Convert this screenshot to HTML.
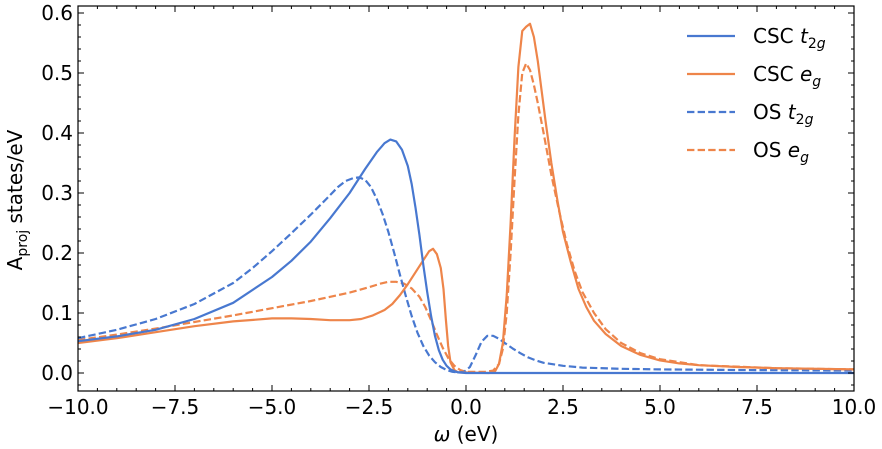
<!DOCTYPE html>
<html><head><meta charset="utf-8"><style>
body{margin:0;background:#fff}
svg{display:block;font-family:"DejaVu Sans","Liberation Sans",sans-serif}
</style></head><body>
<svg width="882" height="449" viewBox="0 0 882 449" xmlns="http://www.w3.org/2000/svg">
<rect width="882" height="449" fill="#fff"/>
<defs><clipPath id="c"><rect x="78" y="6" width="776" height="385"/></clipPath></defs>
<g clip-path="url(#c)" fill="none" stroke-width="2.2" stroke-linejoin="round">
<g transform="translate(466,373) scale(38.8,-600)">
<polyline vector-effect="non-scaling-stroke" stroke="#ee854a" stroke-dasharray="7.4,3.2" points="-10,.055 -9,.064 -8,.074 -7,.085 -6,.096 -5,.108 -4,.12 -3.5,.127 -3,.134 -2.5,.143 -2.2,.149 -2,.152 -1.8,.152 -1.6,.149 -1.4,.141 -1.2,.127 -1.05,.11 -0.9,.088 -0.75,.064 -0.6,.042 -0.45,.024 -0.3,.012 -0.15,.005 0,.002 0.5,.002 0.7,.004 0.85,.015 0.95,.04 1.05,.1 1.15,.2 1.25,.32 1.35,.43 1.45,.5 1.55,.516 1.65,.505 1.75,.48 1.85,.45 2,.4 2.2,.33 2.4,.27 2.6,.215 2.8,.17 3,.135 3.3,.1 3.6,.073 4,.05 4.5,.033 5,.023 6,.013 8,.008 10,.006"/>
<polyline vector-effect="non-scaling-stroke" stroke="#4878d0" stroke-dasharray="7.4,3.2" points="-10,.058 -9,.072 -8,.09 -7,.115 -6,.15 -5.5,.175 -5,.203 -4.5,.233 -4,.264 -3.6,.29 -3.3,.31 -3.1,.32 -2.9,.325 -2.75,.326 -2.6,.322 -2.45,.31 -2.3,.29 -2.15,.265 -2,.235 -1.85,.2 -1.7,.163 -1.55,.128 -1.4,.095 -1.25,.067 -1.1,.045 -0.95,.029 -0.8,.018 -0.65,.01 -0.5,.005 -0.35,.002 -0.2,.001 -0.05,.002 0.1,.01 0.25,.03 0.4,.052 0.55,.062 0.7,.062 0.85,.057 1,.05 1.2,.041 1.4,.033 1.6,.026 1.8,.021 2,.017 2.5,.012 3,.009 4,.007 5,.006 7,.005 10,.004"/>
<polyline vector-effect="non-scaling-stroke" stroke="#ee854a" points="-10,.05 -9,.058 -8,.068 -7,.078 -6,.086 -5,.091 -4.5,.091 -4,.09 -3.5,.088 -3,.088 -2.7,.09 -2.4,.096 -2.1,.105 -1.9,.115 -1.7,.13 -1.5,.148 -1.3,.168 -1.1,.188 -0.95,.203 -0.85,.207 -0.75,.198 -0.65,.175 -0.58,.14 -0.52,.09 -0.46,.045 -0.4,.018 -0.3,.005 -0.2,.001 0.6,0 0.75,.003 0.85,.015 0.95,.05 1.05,.13 1.15,.25 1.25,.39 1.35,.51 1.45,.57 1.55,.577 1.65,.582 1.75,.56 1.85,.52 1.95,.47 2.05,.42 2.2,.35 2.35,.29 2.5,.235 2.7,.185 2.9,.14 3.1,.11 3.3,.087 3.6,.065 4,.045 4.5,.03 5,.021 5.5,.016 6,.013 7,.01 8,.008 10,.006"/>
<polyline vector-effect="non-scaling-stroke" stroke="#4878d0" points="-10,.053 -9,.061 -8,.072 -7,.09 -6,.117 -5,.16 -4.5,.187 -4,.219 -3.5,.258 -3,.3 -2.6,.34 -2.3,.368 -2.1,.383 -1.95,.389 -1.8,.386 -1.65,.372 -1.5,.345 -1.4,.315 -1.3,.275 -1.2,.23 -1.1,.18 -1,.135 -0.9,.095 -0.8,.062 -0.7,.038 -0.6,.022 -0.5,.012 -0.4,.006 -0.3,.003 -0.2,.001 0,0 10,0"/>
</g></g>
<rect x="78" y="6" width="776" height="385" fill="none" stroke="#000" stroke-width="1.2"/>
<g stroke="#000" stroke-width="1">
<path d="M78,391v-6M175,391v-6M272,391v-6M369,391v-6M466,391v-6M563,391v-6M660,391v-6M757,391v-6M854,391v-6M78,6v6M175,6v6M272,6v6M369,6v6M466,6v6M563,6v6M660,6v6M757,6v6M854,6v6"/>
<path d="M97.4,391v-3M116.8,391v-3M136.2,391v-3M155.6,391v-3M194.4,391v-3M213.8,391v-3M233.2,391v-3M252.6,391v-3M291.4,391v-3M310.8,391v-3M330.2,391v-3M349.6,391v-3M388.4,391v-3M407.8,391v-3M427.2,391v-3M446.6,391v-3M485.4,391v-3M504.8,391v-3M524.2,391v-3M543.6,391v-3M582.4,391v-3M601.8,391v-3M621.2,391v-3M640.6,391v-3M679.4,391v-3M698.8,391v-3M718.2,391v-3M737.6,391v-3M776.4,391v-3M795.8,391v-3M815.2,391v-3M834.6,391v-3M97.4,6v3M116.8,6v3M136.2,6v3M155.6,6v3M194.4,6v3M213.8,6v3M233.2,6v3M252.6,6v3M291.4,6v3M310.8,6v3M330.2,6v3M349.6,6v3M388.4,6v3M407.8,6v3M427.2,6v3M446.6,6v3M485.4,6v3M504.8,6v3M524.2,6v3M543.6,6v3M582.4,6v3M601.8,6v3M621.2,6v3M640.6,6v3M679.4,6v3M698.8,6v3M718.2,6v3M737.6,6v3M776.4,6v3M795.8,6v3M815.2,6v3M834.6,6v3"/>
<path d="M78,373h6M78,313h6M78,253h6M78,193h6M78,133h6M78,73h6M78,13h6M854,373h-6M854,313h-6M854,253h-6M854,193h-6M854,133h-6M854,73h-6M854,13h-6"/>
<path d="M78,385h3M78,361h3M78,349h3M78,337h3M78,325h3M78,301h3M78,289h3M78,277h3M78,265h3M78,241h3M78,229h3M78,217h3M78,205h3M78,181h3M78,169h3M78,157h3M78,145h3M78,121h3M78,109h3M78,97h3M78,85h3M78,61h3M78,49h3M78,37h3M78,25h3M854,385h-3M854,361h-3M854,349h-3M854,337h-3M854,325h-3M854,301h-3M854,289h-3M854,277h-3M854,265h-3M854,241h-3M854,229h-3M854,217h-3M854,205h-3M854,181h-3M854,169h-3M854,157h-3M854,145h-3M854,121h-3M854,109h-3M854,97h-3M854,85h-3M854,61h-3M854,49h-3M854,37h-3M854,25h-3"/>
</g>
<g font-size="20" fill="#000" text-anchor="end">
<text x="73" y="380">0.0</text><text x="73" y="320">0.1</text><text x="73" y="260">0.2</text><text x="73" y="200">0.3</text><text x="73" y="140">0.4</text><text x="73" y="80">0.5</text><text x="73" y="20">0.6</text>
</g>
<g font-size="20" fill="#000" text-anchor="middle">
<text x="78" y="414">−10.0</text><text x="175" y="414">−7.5</text><text x="272" y="414">−5.0</text><text x="369" y="414">−2.5</text><text x="466" y="414">0.0</text><text x="563" y="414">2.5</text><text x="660" y="414">5.0</text><text x="757" y="414">7.5</text><text x="854" y="414">10.0</text>
<text x="466" y="441"><tspan font-style="italic">ω</tspan> (eV)</text>
</g>
<text transform="translate(22,200) rotate(-90)" font-size="20" text-anchor="middle">A<tspan font-size="14" dy="5">proj</tspan><tspan dy="-5"> states/eV</tspan></text>
<g stroke-width="2.2">
<line x1="687" y1="36" x2="735" y2="36" stroke="#4878d0"/>
<line x1="687" y1="74" x2="735" y2="74" stroke="#ee854a"/>
<line x1="687" y1="112" x2="735" y2="112" stroke="#4878d0" stroke-dasharray="7.4,3.2"/>
<line x1="687" y1="150" x2="735" y2="150" stroke="#ee854a" stroke-dasharray="7.4,3.2"/>
</g>
<g font-size="20" fill="#000">
<text x="753" y="43">CSC <tspan font-style="italic">t</tspan><tspan font-size="14" dy="5">2<tspan font-style="italic">g</tspan></tspan></text>
<text x="753" y="81">CSC <tspan font-style="italic">e</tspan><tspan font-size="14" dy="5" font-style="italic">g</tspan></text>
<text x="753" y="119">OS <tspan font-style="italic">t</tspan><tspan font-size="14" dy="5">2<tspan font-style="italic">g</tspan></tspan></text>
<text x="753" y="157">OS <tspan font-style="italic">e</tspan><tspan font-size="14" dy="5" font-style="italic">g</tspan></text>
</g>
</svg>
</body></html>
